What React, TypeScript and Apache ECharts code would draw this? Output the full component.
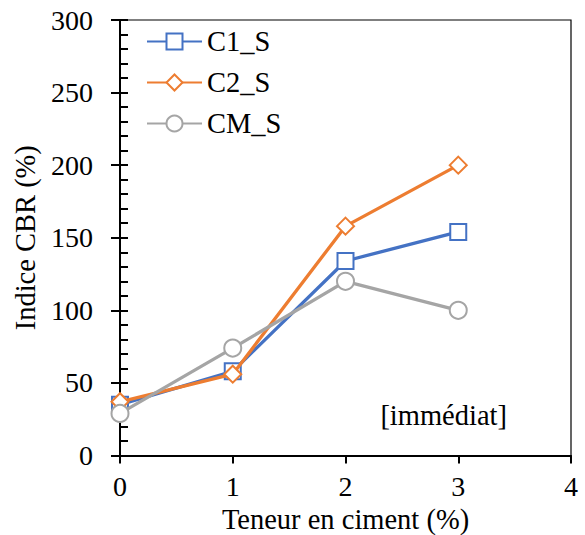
import React, { useEffect, useRef } from "react";
import * as echarts from "echarts";

const seriesNames = ["C1_S", "C2_S", "CM_S"];
const cementContent = [0, 1, 2, 3];
const c1Values = [35, 58, 134, 154];
const c2Values = [37, 56, 158, 200];
const cmValues = [29, 74, 120, 100];
const colors = ["#4472C4", "#ED7D31", "#A5A5A5"];
const symbols = ["rect", "diamond", "circle"];
const xTitle = "Teneur en ciment (%)";
const yTitle = "Indice CBR (%)";
const annotation = "[immédiat]";

const FONT = "'Liberation Serif', 'Times New Roman', serif";

export default function App() {
  const ref = useRef<HTMLDivElement>(null);
  useEffect(() => {
    if (!ref.current) return;
    const chart = echarts.init(ref.current, null, { renderer: "svg" });
    const all = [c1Values, c2Values, cmValues];
    const series = all.map((vals, i) => ({
      name: seriesNames[i],
      type: "line",
      data: cementContent.map((x, j) => [x, vals[j]]),
      symbol: symbols[i],
      symbolSize: i === 0 ? 16 : 17,
      lineStyle: { color: colors[i], width: 3.3 },
      itemStyle: { color: "#fff", borderColor: colors[i], borderWidth: 2 },
      emphasis: { disabled: true },
      z: 3 + i,
    }));
    chart.setOption({
      animation: false,
      textStyle: { fontFamily: FONT },
      grid: {
        left: 120,
        right: 14,
        top: 20,
        bottom: 79.5,
        outerBoundsMode: "none",
        containLabel: false,
        show: true,
        borderColor: "#000",
        borderWidth: 1.2,
        backgroundColor: "transparent",
      },
      legend: {
        orient: "vertical",
        left: 146,
        top: 27,
        padding: 0,
        itemWidth: 55,
        itemHeight: 20,
        itemGap: 12,
        data: seriesNames,
        textStyle: { fontFamily: FONT, fontSize: 28.5, color: "#000" },
      },
      xAxis: {
        type: "value",
        min: 0,
        max: 4,
        interval: 1,
        name: xTitle,
        nameLocation: "middle",
        nameGap: 29,
        nameTextStyle: { fontFamily: FONT, fontSize: 28.5, color: "#000" },
        axisLine: { lineStyle: { color: "#000", width: 2 } },
        axisTick: { show: true, length: 8, lineStyle: { color: "#000", width: 2 } },
        axisLabel: { fontFamily: FONT, fontSize: 28, color: "#000", margin: 17 },
        splitLine: { show: false },
      },
      yAxis: [
        {
          type: "value",
          min: 0,
          max: 300,
          interval: 50,
          name: yTitle,
          nameLocation: "middle",
          nameGap: 76,
          nameTextStyle: { fontFamily: FONT, fontSize: 28.5, color: "#000" },
          axisLine: { lineStyle: { color: "#000", width: 2 } },
          axisTick: { show: true, length: 9, lineStyle: { color: "#000", width: 2 } },
          axisLabel: { fontFamily: FONT, fontSize: 28, color: "#000", margin: 27 },
          splitLine: { show: false },
        },
        {
          type: "value",
          min: 0,
          max: 300,
          interval: 50,
          position: "right",
          offset: -451,
          axisLine: { show: false },
          axisTick: { show: true, length: 8, lineStyle: { color: "#000", width: 2 } },
          minorTick: { show: true, splitNumber: 5, length: 8, lineStyle: { color: "#000", width: 2 } },
          axisLabel: { show: false },
          splitLine: { show: false },
        },
      ],
      graphic: [
        {
          type: "text",
          x: 507,
          y: 415,
          style: {
            text: annotation,
            fontFamily: FONT,
            fontSize: 28.5,
            fill: "#000",
            textAlign: "right",
            textVerticalAlign: "middle",
          },
        },
      ],
      series,
    });
    return () => chart.dispose();
  }, []);
  return (
    <div
      ref={ref}
      style={{ position: "fixed", left: 0, top: 0, width: 585, height: 535, background: "#fff" }}
    />
  );
}
